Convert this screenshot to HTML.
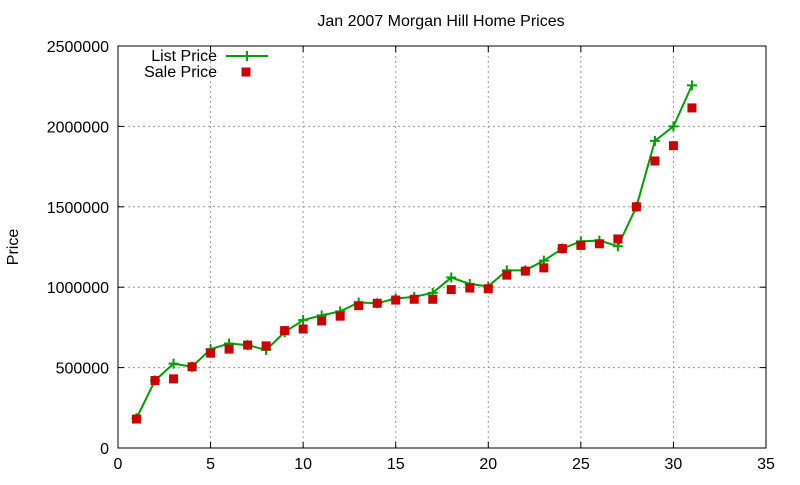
<!DOCTYPE html>
<html><head><meta charset="utf-8"><style>
body{margin:0;background:#fff;}
svg text{font-family:"Liberation Sans",sans-serif;font-size:16px;fill:#000;}
</style></head><body>
<svg id="c" width="800" height="480"></svg>
<script>
const days=[1,2,3,4,5,6,7,8,9,10,11,12,13,14,15,16,17,18,19,20,21,22,23,24,25,26,27,28,29,30,31];
const listPrice=[185000,420000,525000,505000,615000,650000,640000,610000,720000,795000,825000,850000,905000,900000,930000,940000,965000,1060000,1020000,1005000,1105000,1105000,1165000,1240000,1285000,1290000,1255000,1500000,1910000,2000000,2255000];
const salePrice=[180000,420000,430000,505000,590000,615000,640000,635000,730000,740000,790000,820000,885000,900000,920000,925000,925000,985000,995000,990000,1075000,1100000,1120000,1240000,1260000,1270000,1300000,1500000,1785000,1880000,2115000];
const xTicks=[0,5,10,15,20,25,30,35];
const yTicks=[0,500000,1000000,1500000,2000000,2500000];
const X0=118,X1=766,Y0=448,Y1=46;
const xs=v=>X0+(v-0)/35*(X1-X0);
const ys=v=>Y0-v/2500000*(Y0-Y1);
const svg=document.getElementById('c');
const NS='http://www.w3.org/2000/svg';
function mk(t,a){const e=document.createElementNS(NS,t);for(const k in a)e.setAttribute(k,a[k]);svg.appendChild(e);return e;}
xTicks.forEach(t=>{
 const x=xs(t);
 if(t>0&&t<35){const g=mk('line',{x1:x,x2:x,y1:Y0,y2:Y1,stroke:'#999','stroke-dasharray':'2,3'});
 
 }
 mk('line',{x1:x,x2:x,y1:Y0,y2:Y0-6,stroke:'#000'});
 mk('line',{x1:x,x2:x,y1:Y1,y2:Y1+6,stroke:'#000'});
 const l=mk('text',{x:x,y:Y0+21,'text-anchor':'middle'});l.textContent=t;
 
 
});
yTicks.forEach(t=>{
 const y=ys(t);
 if(t>0&&t<2500000){const g=mk('line',{x1:X0,x2:X1,y1:y,y2:y,stroke:'#999','stroke-dasharray':'2,3'});
 
 }
 mk('line',{x1:X0,x2:X0+6,y1:y,y2:y,stroke:'#000'});
 mk('line',{x1:X1,x2:X1-6,y1:y,y2:y,stroke:'#000'});
 const l=mk('text',{x:X0-9,y:y+6,'text-anchor':'end'});l.textContent=t;
 
 
});
const fr=mk('rect',{x:X0,y:Y1,width:X1-X0,height:Y0-Y1,fill:'none',stroke:'#000'});


const ttl=mk('text',{x:441,y:26,'text-anchor':'middle'});ttl.textContent='Jan 2007 Morgan Hill Home Prices';


const yt=mk('text',{x:18,y:247,'text-anchor':'middle',transform:'rotate(-90 18 247)'});yt.textContent='Price';


const pts=days.map((d,i)=>xs(d)+','+ys(listPrice[i])).join(' ');
const pl=mk('polyline',{points:pts,fill:'none',stroke:'#00a000','stroke-width':2});


days.forEach((d,i)=>{
 const x=xs(d),y=ys(listPrice[i]);
 const p=mk('path',{d:`M${x-5},${y}H${x+5}M${x},${y-5}V${y+5}`,stroke:'#00a000','stroke-width':2});
 
 
});
days.forEach((d,i)=>{
 const x=xs(d),y=ys(salePrice[i]);
 const r=mk('rect',{x:x-4.5,y:y-4.5,width:9,height:9,fill:'#cc0000'});
 
 
});
const l1=mk('text',{x:217,y:61,'text-anchor':'end'});l1.textContent='List Price';


mk('path',{d:'M226,56H268M247,51V61',stroke:'#00a000','stroke-width':2});
const l2=mk('text',{x:217,y:77,'text-anchor':'end'});l2.textContent='Sale Price';


mk('rect',{x:241.5,y:67.5,width:9,height:9,fill:'#cc0000'});
</script>
</body></html>
